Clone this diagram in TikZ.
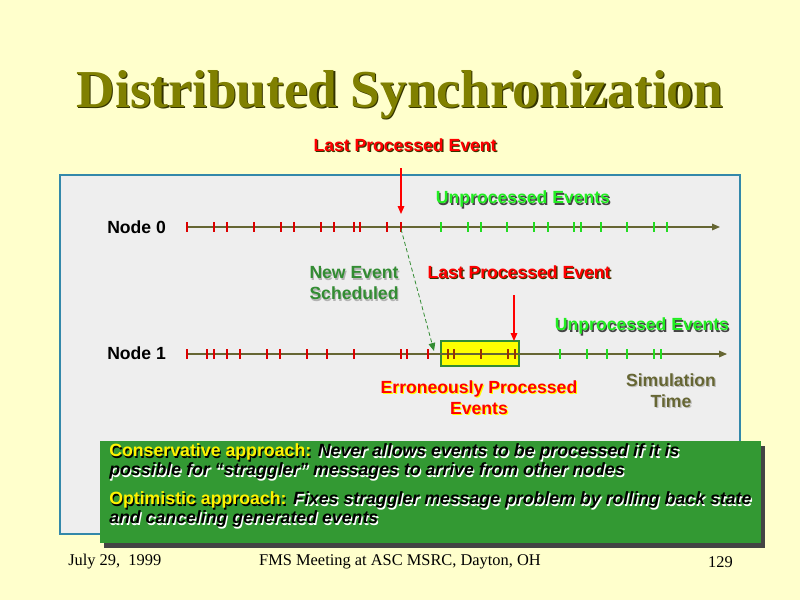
\documentclass[tikz,border=0pt]{standalone}
\usepackage{fontspec}
\setmainfont{Liberation Serif}
\newfontfamily\arialfont{Liberation Sans}
\usetikzlibrary{positioning, arrows.meta, shadows}

\definecolor{slidebg}{RGB}{255,255,204}
\definecolor{panelgray}{RGB}{238,238,238}
\definecolor{panelblue}{RGB}{51,136,170}
\definecolor{titleolive}{RGB}{128,128,0}
\definecolor{titleshade}{RGB}{51,51,0}
\definecolor{axisolive}{RGB}{102,102,51}
\definecolor{evred}{RGB}{221,0,0}
\definecolor{evgreen}{RGB}{34,221,34}
\definecolor{unpgreen}{RGB}{34,238,34}
\definecolor{errred}{RGB}{153,51,0}
\definecolor{schedgreen}{RGB}{51,140,51}
\definecolor{boxgreen}{RGB}{51,153,51}
\definecolor{boxshade}{RGB}{68,68,68}
\definecolor{errbox}{RGB}{255,255,0}

% text with a small drop shadow: fg, shadow, text
\newcommand{\shd}[3]{\leavevmode\rlap{\kern0.9pt\raisebox{-0.9pt}{\textcolor{#2}{#3}}}\textcolor{#1}{#3}}

\begin{document}
\begin{tikzpicture}[
    x=0.75pt, y=-0.75pt,
    lbl/.style={font=\arialfont\bfseries\fontsize{13.2}{15.8}\selectfont, inner sep=0pt, align=center},
    boxtxt/.style={font=\arialfont\bfseries\fontsize{13.3}{15}\selectfont, inner sep=0pt, anchor=west},
    foot/.style={font=\fontsize{12.3}{14}\selectfont, inner sep=0pt},
    redtick/.style={draw=evred, line width=1.5pt},
    greentick/.style={draw=evgreen, line width=1.5pt},
    errtick/.style={draw=errred, line width=1.5pt},
    timeaxis/.style={draw=axisolive, line width=0.8pt, -{Triangle[length=6pt, width=5pt]}},
    lastarrow/.style={draw=red, line width=0.8pt, -{Triangle[length=6pt, width=5pt]}},
    schedarrow/.style={draw=schedgreen, line width=0.6pt, dash pattern=on 3pt off 2pt, -{Triangle[length=6pt, width=5pt]}},
    approachbox/.style={fill=boxgreen, inner sep=0pt, minimum width=495.75pt, minimum height=76.5pt,
        drop shadow={shadow xshift=2.5pt, shadow yshift=-3.5pt, fill=boxshade, opacity=1}}
]

    % slide and panel
    \fill[slidebg] (0,0) rectangle (800,600);
    \useasboundingbox (0,0) rectangle (800,600);
    \draw[fill=panelgray, draw=panelblue, line width=0.8pt] (60,175) rectangle (740,534);

    % title
    \node[font=\bfseries\fontsize{40}{46}\selectfont, inner sep=0pt] (title) at (400,95)
        {\shd{titleolive}{titleshade}{Distributed Synchronization}};

    % Node 0 time line
    \node[lbl, anchor=west] (node0) at (107,227) {Node 0};
    \coordinate (n0start) at (187,227);
    \coordinate (n0end) at (720,227);
    \draw[timeaxis] (n0start) -- (n0end);
    \foreach \x in {187,214,227,254,281,294,321,334,354,360,387,401}
        \draw[redtick] (\x,222) -- (\x,232);
    \foreach \x in {441,468,481,507,534,548,574,581,601,627,654,667}
        \draw[greentick] (\x,222) -- (\x,232);

    \node[lbl] (lpe0) at (405,146) {\shd{red}{titleshade}{Last Processed Event}};
    \node[lbl] (unp0) at (523,200) {\shd{unpgreen}{boxshade}{Unprocessed Events}};
    \coordinate (a0) at (401,168);
    \coordinate (b0) at (401,214);
    \draw[lastarrow] (a0) -- (b0);

    % Node 1 time line
    \node[lbl, anchor=west] (node1) at (107,353) {Node 1};
    \draw[fill=errbox, draw=schedgreen, line width=0.8pt] (441,341) rectangle (519,366);
    \coordinate (n1start) at (187,354);
    \coordinate (n1end) at (727,354);
    \draw[timeaxis] (n1start) -- (n1end);
    \foreach \x in {187,207,213.5,227,240,267,280,307,327,354,401,407,428}
        \draw[redtick] (\x,349) -- (\x,359);
    \foreach \x in {447.5,454,481,508,514.5}
        \draw[errtick] (\x,349) -- (\x,359);
    \foreach \x in {560,587,607,627,654,661}
        \draw[greentick] (\x,349) -- (\x,359);

    \node[lbl] (lpe1) at (519,273) {\shd{red}{titleshade}{Last Processed Event}};
    \node[lbl] (unp1) at (642,327) {\shd{unpgreen}{boxshade}{Unprocessed Events}};
    \coordinate (a1) at (514,295);
    \coordinate (b1) at (514,341);
    \draw[lastarrow] (a1) -- (b1);

    % new event sent from node 0 to node 1
    \node[lbl] (newev) at (354,284)
        {\shd{schedgreen}{gray!60}{New Event}\\\shd{schedgreen}{gray!60}{Scheduled}};
    \coordinate (sent) at (401,229);
    \coordinate (arrive) at (434,351);
    \draw[schedarrow] (sent) -- (arrive);

    \node[lbl] (errev) at (479,398)
        {\shd{red}{errbox}{Erroneously Processed}\\\shd{red}{errbox}{Events}};
    \node[lbl] (simtime) at (671,391)
        {\shd{axisolive}{gray!50}{Simulation}\\\shd{axisolive}{gray!50}{Time}};

    % approaches
    \node[approachbox, anchor=north west] (approach) at (100,441) {};
    \node[boxtxt] (cons1) at (109,453)
        {\shd{yellow}{black}{Conservative approach:} \shd{black}{white}{\itshape Never allows events to be processed if it is}};
    \node[boxtxt] (cons2) at (109,472)
        {\shd{black}{white}{\itshape possible for “straggler” messages to arrive from other nodes}};
    \node[boxtxt] (opt1) at (109,501)
        {\shd{yellow}{black}{Optimistic approach:} \shd{black}{white}{\itshape Fixes straggler message problem by rolling back state}};
    \node[boxtxt] (opt2) at (109,520)
        {\shd{black}{white}{\itshape and canceling generated events}};

    % footer
    \node[foot, anchor=west] (date) at (68,562) {July 29,\ \ 1999};
    \node[foot] (meeting) at (400,562) {FMS Meeting at ASC MSRC, Dayton, OH};
    \node[foot, anchor=east] (page) at (733,562) {129};

\end{tikzpicture}
\end{document}
